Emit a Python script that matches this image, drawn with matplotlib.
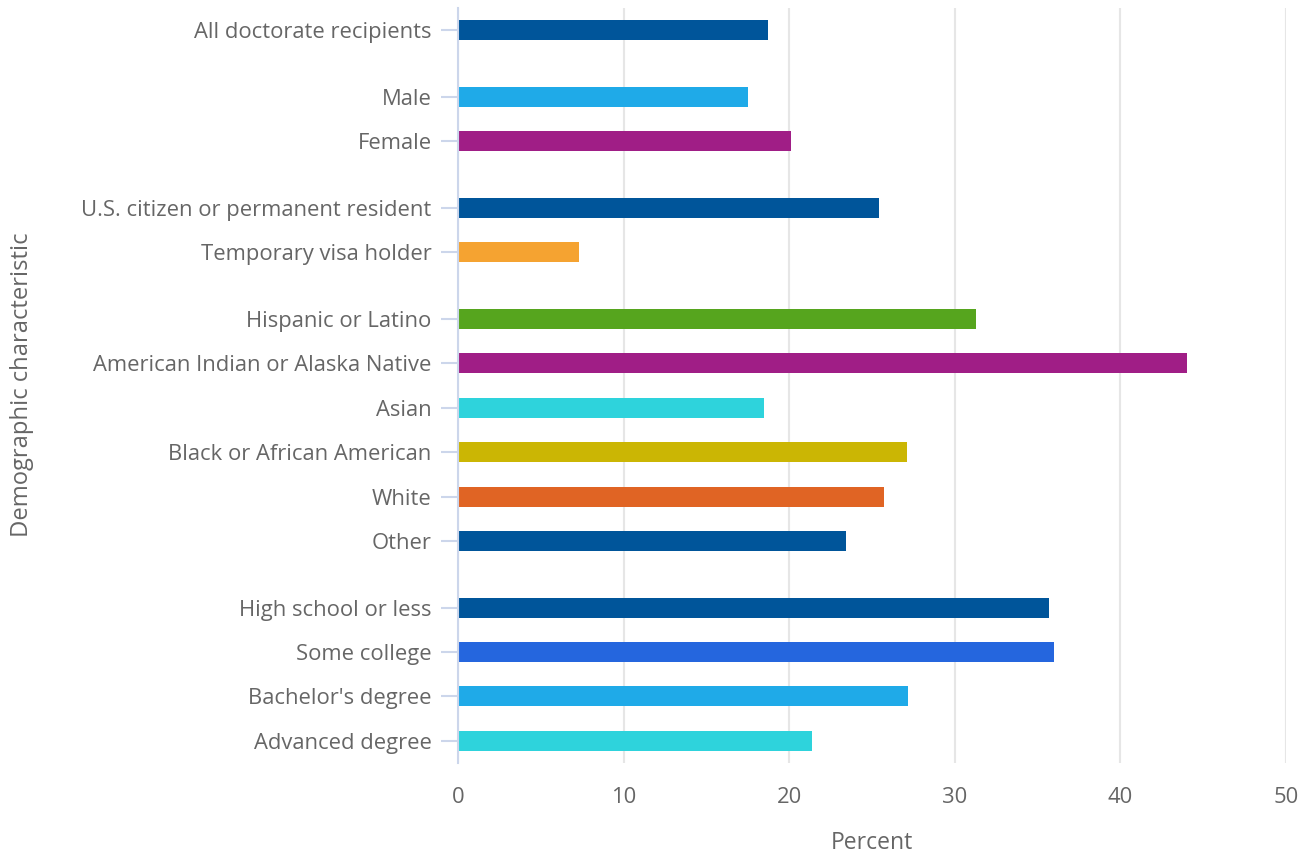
import matplotlib
matplotlib.use("Agg")
import matplotlib.pyplot as plt

groups = [
    ["All doctorate recipients"],
    ["Male", "Female"],
    ["U.S. citizen or permanent resident", "Temporary visa holder"],
    ["Hispanic or Latino", "American Indian or Alaska Native", "Asian",
     "Black or African American", "White", "Other"],
    ["High school or less", "Some college", "Bachelor's degree", "Advanced degree"],
]
values = [18.7, 17.5, 20.1, 25.4, 7.3, 31.3, 44.0, 18.5, 27.1, 25.7, 23.4,
          35.7, 36.0, 27.2, 21.4]
colors = ["#00559a", "#1faae8", "#a01e86", "#00559a", "#f5a331", "#56a51e",
          "#a01e86", "#2ed3dc", "#cbb604", "#e06424", "#00559a",
          "#00559a", "#2566de", "#1faae8", "#2ed3dc"]
x_ticks = [0, 10, 20, 30, 40, 50]

labels, pos = [], []
p = 0.0
for gi, g in enumerate(groups):
    if gi > 0:
        p += 0.5
    for lab in g:
        labels.append(lab)
        pos.append(p)
        p += 1.0

plt.rcParams['font.family'] = ['Open Sans', 'DejaVu Sans']
fig = plt.figure(figsize=(13.09, 8.56), dpi=100)
ax = fig.add_axes([458/1309, 1-763/856, (1286-458)/1309, (763-8)/856])

ax.barh(pos, values, height=0.45, color=colors, zorder=3)
ax.set_ylim(pos[-1] + 0.5, pos[0] - 0.5)
ax.set_xlim(0, 50)
ax.set_yticks(pos)
ax.set_yticklabels(labels)
ax.set_xticks(x_ticks)
ax.set_xticklabels([str(t) for t in x_ticks])

ax.grid(axis='x', color='#e6e6e6', linewidth=1.5, zorder=0)
for s in ['top', 'right', 'bottom']:
    ax.spines[s].set_visible(False)
ax.spines['left'].set_color('#ccd6eb')
ax.spines['left'].set_linewidth(1.5)
ax.spines['left'].set_zorder(4)

ax.tick_params(axis='y', length=12, width=1.5, color='#ccd6eb', pad=7,
               labelsize=15.8, labelcolor='#666666')
ax.tick_params(axis='x', length=0, pad=17, labelsize=15.8, labelcolor='#666666')

ax.set_xlabel('Percent', fontsize=16.5, color='#666666', labelpad=17)
fig.text(22/1309, 1-385/856, 'Demographic characteristic', rotation=90,
         ha='center', va='center', fontsize=17.1, color='#666666')

fig.savefig('out.png', dpi=100)
